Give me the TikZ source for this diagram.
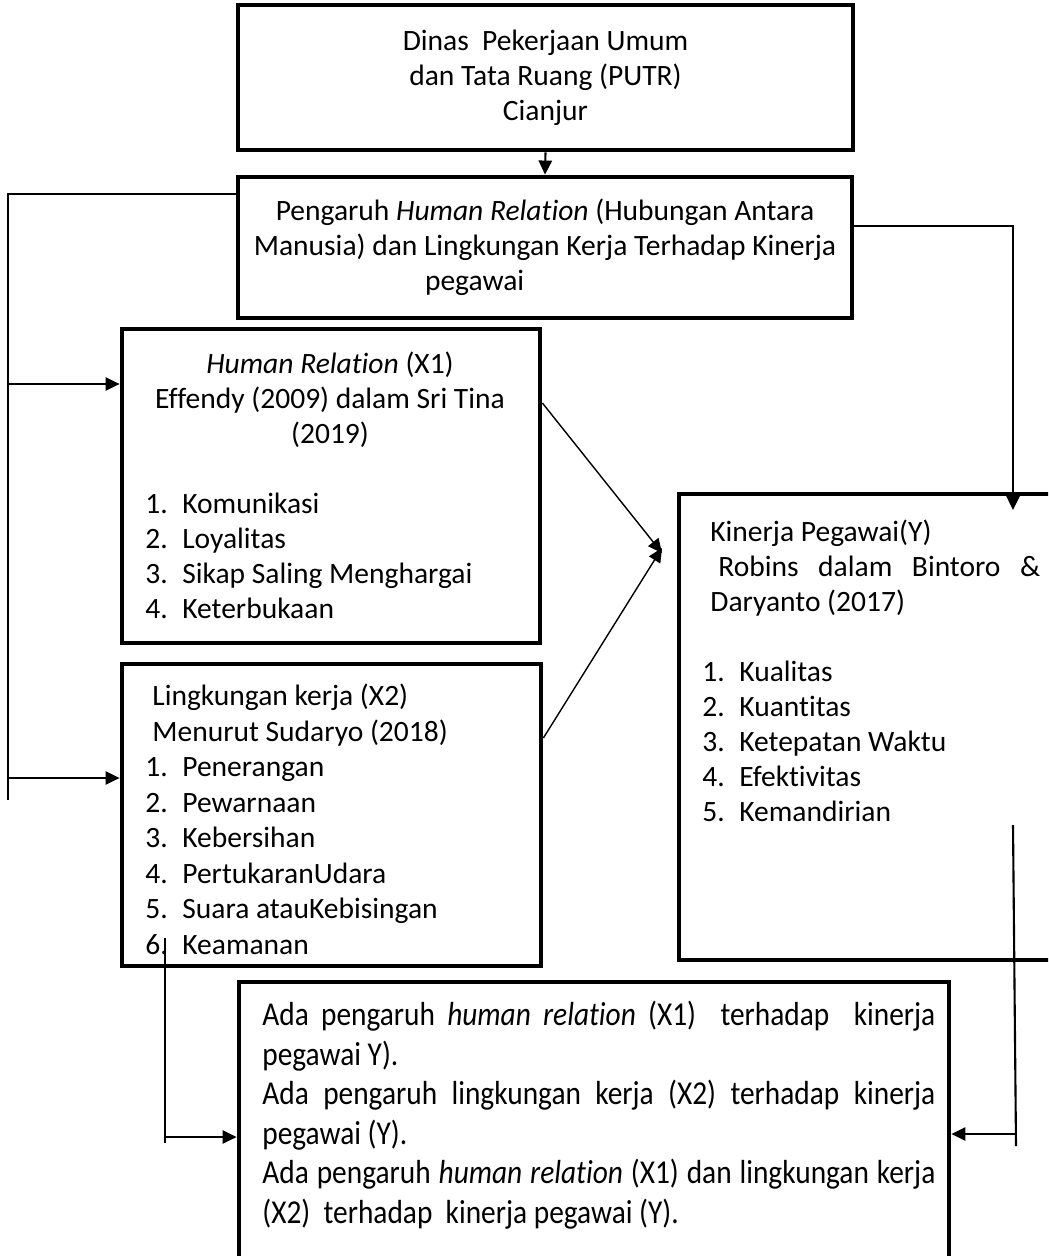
\documentclass[tikz,border=0pt]{standalone}
\usepackage{fontspec}
\setmainfont{Carlito}[RawFeature = {-liga;-clig;-calt;-rlig}]
\newfontfamily\narrowfont[FakeStretch = 0.88, RawFeature = {-liga;-clig;-calt;-rlig}]{Carlito}
\usetikzlibrary{positioning,calc}
\usetikzlibrary{arrows.meta}
\setlength{\parindent}{0pt}

\newcommand{\numitem}[2]{\makebox[0.74cm][l]{#1}#2}

\tikzset{
    box/.style = {draw, line width = 2.7pt, rectangle, inner sep = 0pt},
    txt/.style = {inner sep = 0pt, font = \fontsize{16.8}{19.9}\selectfont},
    link/.style = {line width = 1.2pt},
}

\begin{document}
\begin{tikzpicture}[>={Triangle[length = 8pt, width = 7.5pt]}]
    \useasboundingbox (0, 0) rectangle (20.96, -25.12);
    \clip (0, 0) rectangle (20.96, -25.12);

    % boxes
    \node [box, txt, align = center, minimum width = 12.3cm, minimum height = 2.9cm] (dinas) at (10.91, -1.55)
        {Dinas\ \ Pekerjaan Umum\\dan Tata Ruang (PUTR)\\Cianjur};
    \node [box, txt, align = center, minimum width = 12.28cm, minimum height = 2.82cm] (pengaruh) at (10.9, -4.95)
        {Pengaruh \textit{Human Relation} (Hubungan Antara\\Manusia) dan Lingkungan Kerja Terhadap Kinerja\\\makebox[4.8cm][l]{pegawai}};
    \node [box, minimum width = 8.36cm, minimum height = 6.28cm] (hr) at (6.62, -9.72) {};
    \node [box, minimum width = 8.38cm, minimum height = 6.04cm] (lk) at (6.63, -16.3) {};
    \node [box, minimum width = 8.42cm, minimum height = 9.32cm] (kinerja) at (17.79, -14.54) {};
    \node [box, minimum width = 14.2cm, minimum height = 6.36cm] (hasil) at (11.88, -22.82) {};

    % texts in the boxes
    \node [txt, align = center, anchor = north] (hrtitle) at (6.6, -7.04)
        {\textit{Human Relation} (X1)\\Effendy (2009) dalam Sri Tina\\(2019)};
    \node [txt, align = left, anchor = north west] (hrlist) at (2.9, -9.86)
        {\numitem{1.}{Komunikasi}\\\numitem{2.}{Loyalitas}\\\numitem{3.}{Sikap Saling Menghargai}\\\numitem{4.}{Keterbukaan}};
    \node [txt, align = left, anchor = north west, font = \fontsize{16.8}{20.2}\selectfont] (lklist) at (2.9, -13.68)
        {\hspace*{0.14cm}Lingkungan kerja (X2)\\\hspace*{0.14cm}Menurut Sudaryo (2018)\\
         \numitem{1.}{Penerangan}\\\numitem{2.}{Pewarnaan}\\\numitem{3.}{Kebersihan}\\
         \numitem{4.}{PertukaranUdara}\\\numitem{5.}{Suara atauKebisingan}\\\numitem{6.}{Keamanan}};
    \node [txt, align = left, anchor = north west] (ktitle) at (14.2, -10.4)
        {Kinerja\ Pegawai(Y)\\\hspace*{0.16cm}\makebox[6.44cm][s]{Robins dalam Bintoro \&}\\Daryanto (2017)};
    \node [txt, align = left, anchor = north west] (klist) at (14.04, -13.22)
        {\numitem{1.}{Kualitas}\\\numitem{2.}{Kuantitas}\\\numitem{3.}{Ketepatan Waktu}\\\numitem{4.}{Efektivitas}\\\numitem{5.}{Kemandirian}};
    \node [inner sep = 0pt, anchor = north west, text width = 13.46cm, align = justify,
           font = \narrowfont\fontsize{19}{22.5}\selectfont] (htext) at (5.24, -20.02)
        {Ada pengaruh \textit{human relation} (X1)\ \ terhadap\ \ kinerja\linebreak pegawai Y).\par
         Ada pengaruh lingkungan kerja (X2) terhadap kinerja\linebreak pegawai (Y).\par
         Ada pengaruh \textit{human relation} (X1) dan lingkungan kerja\linebreak (X2)\ \ terhadap\ \ kinerja pegawai (Y).};

    % connectors
    \draw [->, link] (dinas.south) -- (pengaruh.north);

    \coordinate (ltop) at (0.16, -3.88);
    \coordinate (lbot) at (0.16, -16.0);
    \coordinate (l1) at (0.16, -7.68);
    \coordinate (l2) at (0.16, -15.56);
    \draw [link] (pengaruh.west |- ltop)  --  (ltop)  --  (lbot);
    \draw [->, link] (l1)  --  (l1 -| hr.west);
    \draw [->, link] (l2)  --  (l2 -| lk.west);

    \coordinate (rtop) at (20.26, -4.52);
    \coordinate (rbot) at (20.26, -10.2);
    \draw [->, link] (pengaruh.east |- rtop)  --  (rtop)  --  (rbot);

    \coordinate (m1) at (13.24, -11.06);
    \coordinate (m2) at (13.24, -10.96);
    \draw [->, line width = 0.8pt] (hr.east |- 0, -8.06)  --  (m1);
    \draw [->, line width = 0.8pt] (lk.east |- 0, -14.76)  --  (m2);

    \coordinate (btop) at (3.3, -18.76);
    \coordinate (bbot) at (3.3, -22.86);
    \coordinate (bmid) at (3.3, -22.74);
    \draw [link] (btop)  --  (bbot);
    \draw [->, link] (bmid)  --  (bmid -| hasil.west);

    \coordinate (ctop) at (20.26, -16.5);
    \coordinate (cbot) at (20.32, -22.92);
    \coordinate (cmid) at (20.31, -22.68);
    \draw [link] (ctop)  --  (cbot);
    \draw [->, link] (cmid)  --  (cmid -| hasil.east);
\end{tikzpicture}
\end{document}
